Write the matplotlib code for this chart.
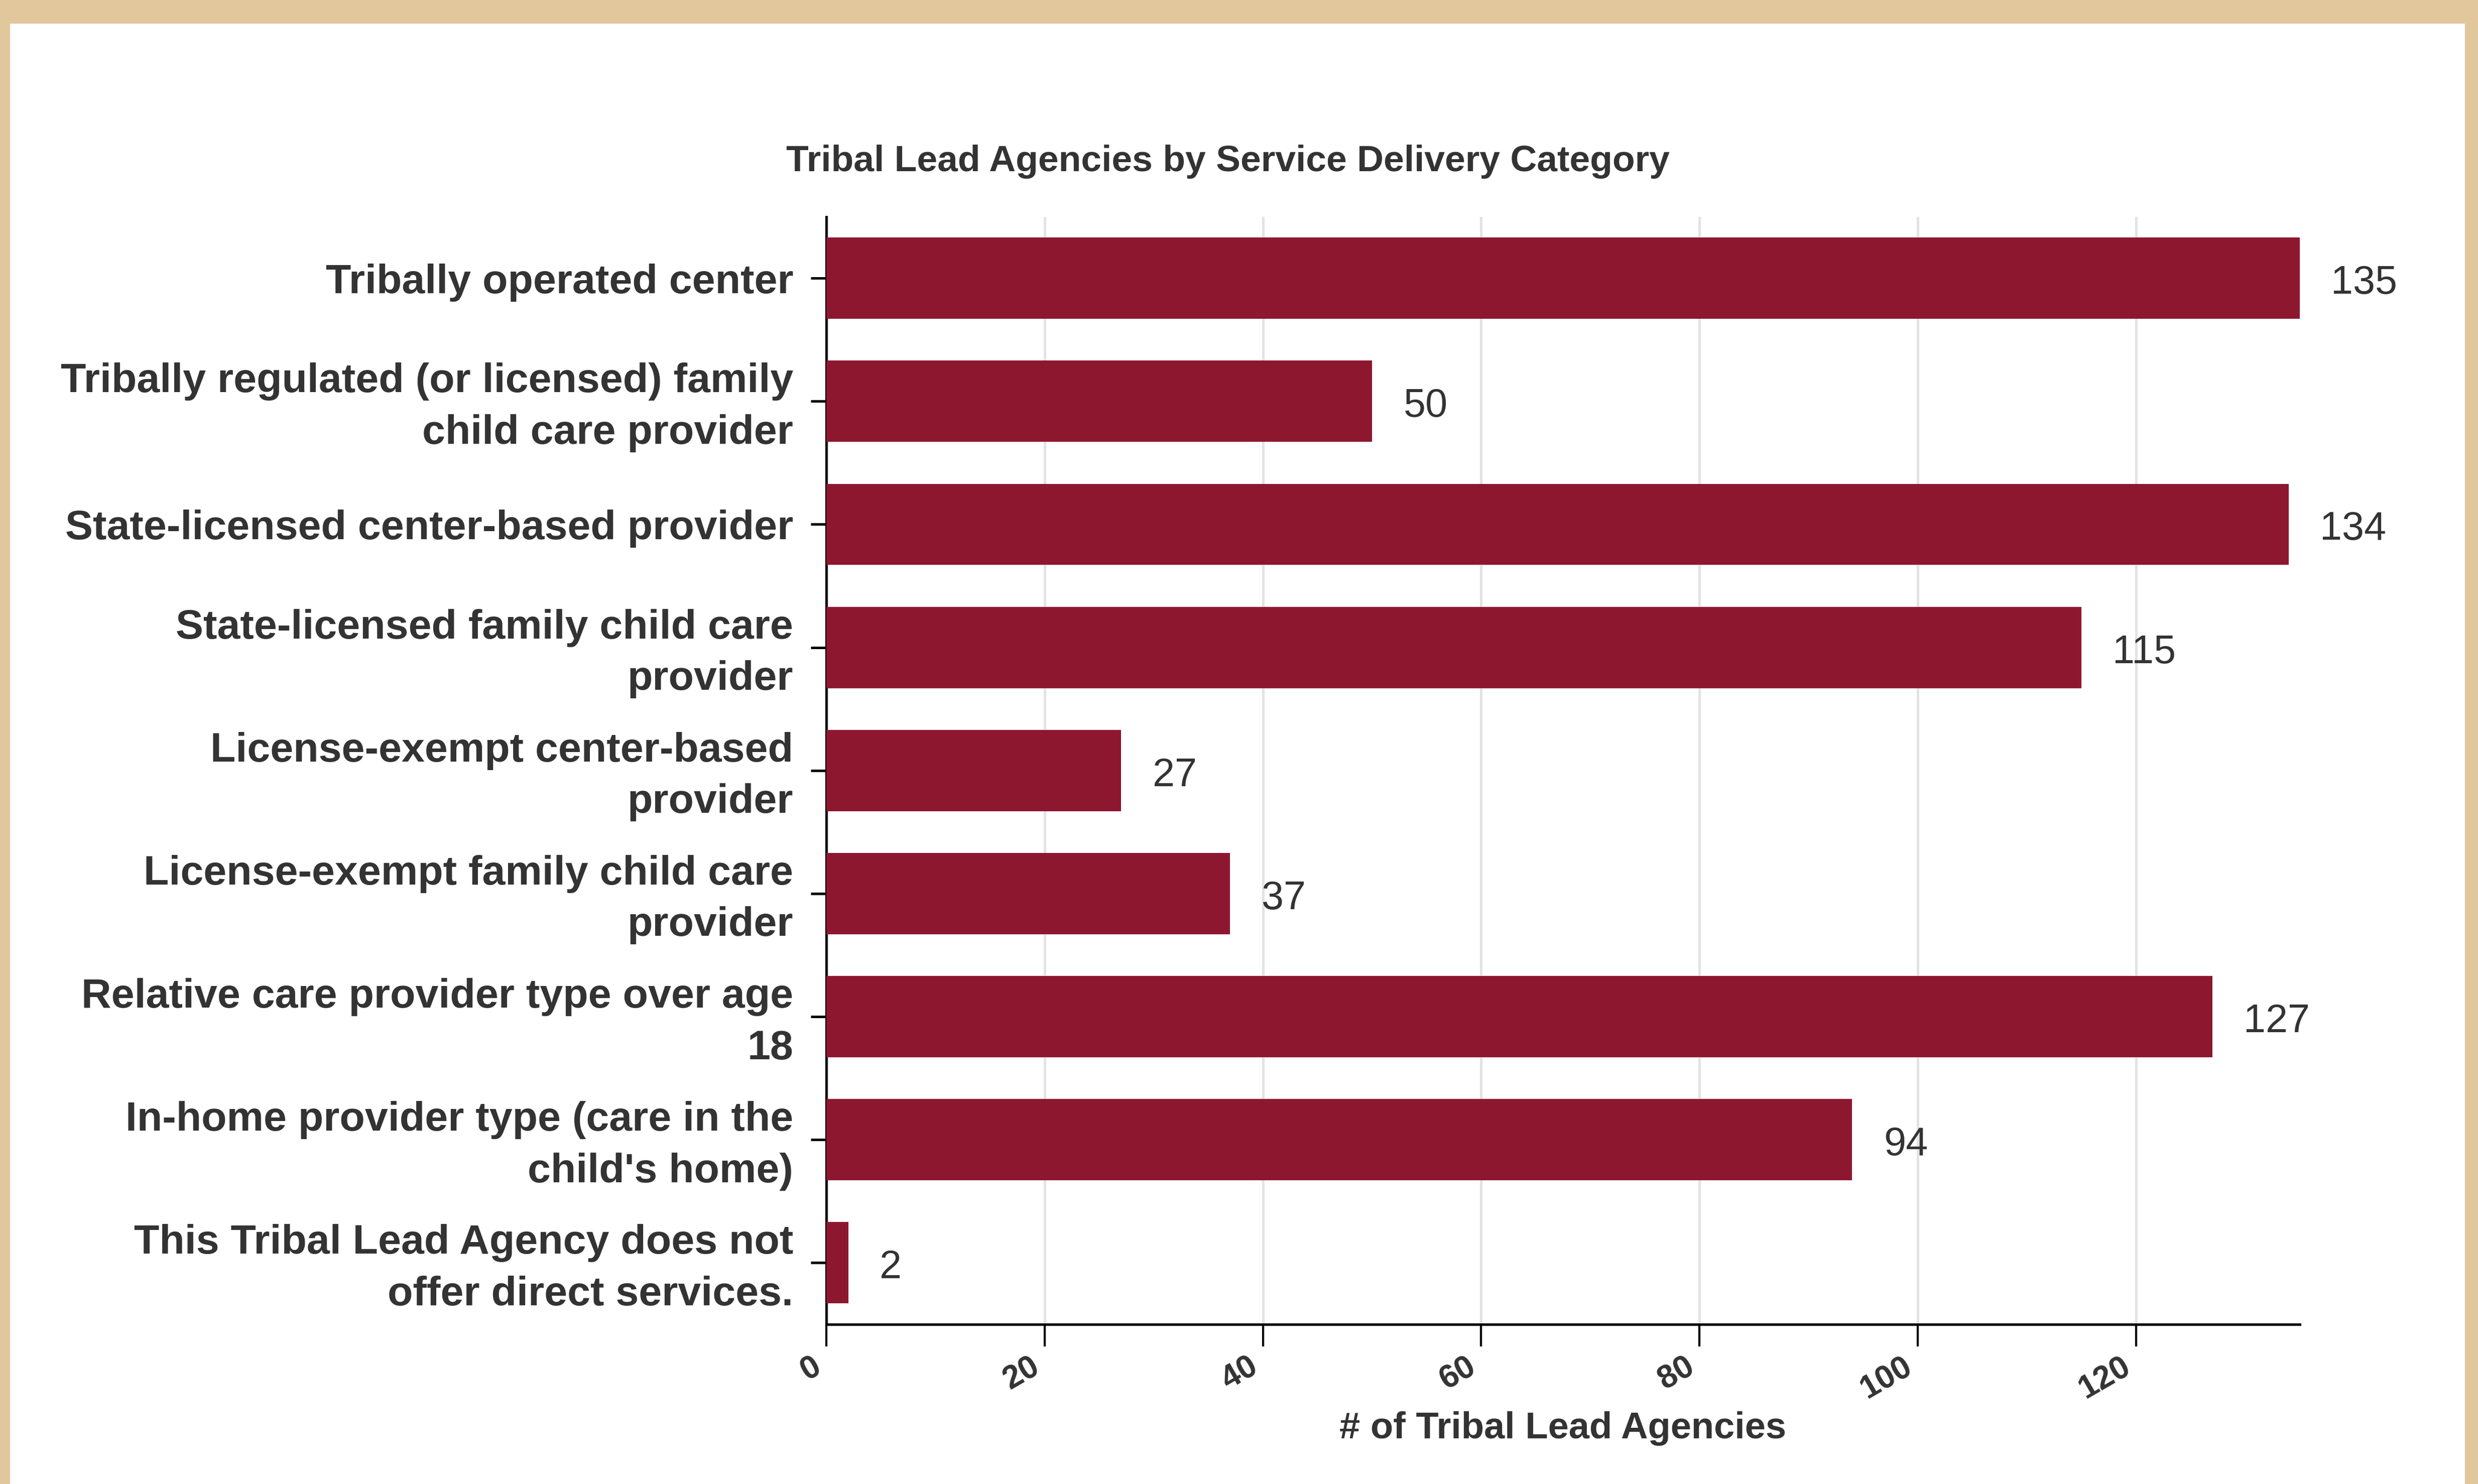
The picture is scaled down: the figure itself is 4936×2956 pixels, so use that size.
# -*- coding: utf-8 -*-
"""
Tribal Lead Agencies by Service Delivery Category - horizontal bar chart
"""
import numpy as np
import matplotlib
matplotlib.use("Agg")
from matplotlib import pyplot as plt
from matplotlib.patches import Rectangle
import matplotlib.transforms as mtransforms

# DATA:========================================================================
categories = [
    "Tribally operated center",
    "Tribally regulated (or licensed) family\nchild care provider",
    "State-licensed center-based provider",
    "State-licensed family child care\nprovider",
    "License-exempt center-based\nprovider",
    "License-exempt family child care\nprovider",
    "Relative care provider type over age\n18",
    "In-home provider type (care in the\nchild's home)",
    "This Tribal Lead Agency does not\noffer direct services.",
]
counts = [135, 50, 134, 115, 27, 37, 127, 94, 2]
x_ticks = [0, 20, 40, 60, 80, 100, 120]

title = "Tribal Lead Agencies by Service Delivery Category"
x_label = "# of Tribal Lead Agencies"

# STYLE:=======================================================================
matplotlib.rcParams['font.family'] = ['Liberation Sans', 'DejaVu Sans']
bar_color  = '#8E1730'
text_color = '#333333'
frame_color = '#E1C79B'

# PLOT:========================================================================
fig = plt.figure(figsize=(4936/300., 2956/300.), dpi=300, facecolor='white')

# beige frame (top, left, right only)
fig.patches.append(Rectangle((0, 1 - 45/2956.), 1, 45/2956., transform=fig.transFigure,
                             color=frame_color, zorder=0))
fig.patches.append(Rectangle((0, 0), 18/4936., 1, transform=fig.transFigure,
                             color=frame_color, zorder=0))
fig.patches.append(Rectangle((1 - 24/4936., 0), 24/4936., 1, transform=fig.transFigure,
                             color=frame_color, zorder=0))

ax = fig.add_axes([0.3335, 0.1076, 0.928 - 0.3335, 0.854 - 0.1076])

v_y = np.arange(len(categories))
ax.barh(v_y, counts, height=0.66, color=bar_color, zorder=3)

for y, v in zip(v_y, counts):
    ax.annotate(str(v), (v, y), xytext=(15, -2.5), textcoords='offset points',
                va='center', ha='left', fontsize=19, color=text_color)

ax.set_xlim(0, 135)
ax.set_ylim(len(categories) - 0.5, -0.5)

ax.set_yticks(v_y)
ax.set_yticklabels(categories, fontsize=19.8, fontweight='bold', color=text_color,
                   linespacing=1.45)
ax.set_xticks(x_ticks)
ax.set_xticklabels([str(t) for t in x_ticks], fontsize=15.5, fontweight='bold',
                   color=text_color, rotation=30, ha='right')

ax.tick_params(axis='y', length=7.5, width=1.2, pad=8.3, color='black')
ax.tick_params(axis='x', length=10.5, width=1.0, pad=2.5, color='black')

# two-line labels sit a touch higher in the original
shift = mtransforms.ScaledTranslation(0, 2.3/72., fig.dpi_scale_trans)
for lbl in ax.get_yticklabels():
    if '\n' in lbl.get_text():
        lbl.set_transform(lbl.get_transform() + shift)

ax.grid(axis='x', color='#E3E3E3', linewidth=1.2, zorder=0)
ax.set_axisbelow(True)

for s in ['top', 'right']:
    ax.spines[s].set_visible(False)
ax.spines['left'].set_linewidth(1.2)
ax.spines['bottom'].set_linewidth(1.2)

ax.set_xlabel(x_label, fontsize=17.8, fontweight='bold', color=text_color, labelpad=3)
fig.text(0.4955, 0.891, title, ha='center', va='center', fontsize=17.6,
         fontweight='bold', color=text_color)

fig.savefig('out.png', dpi=300, facecolor='white')
